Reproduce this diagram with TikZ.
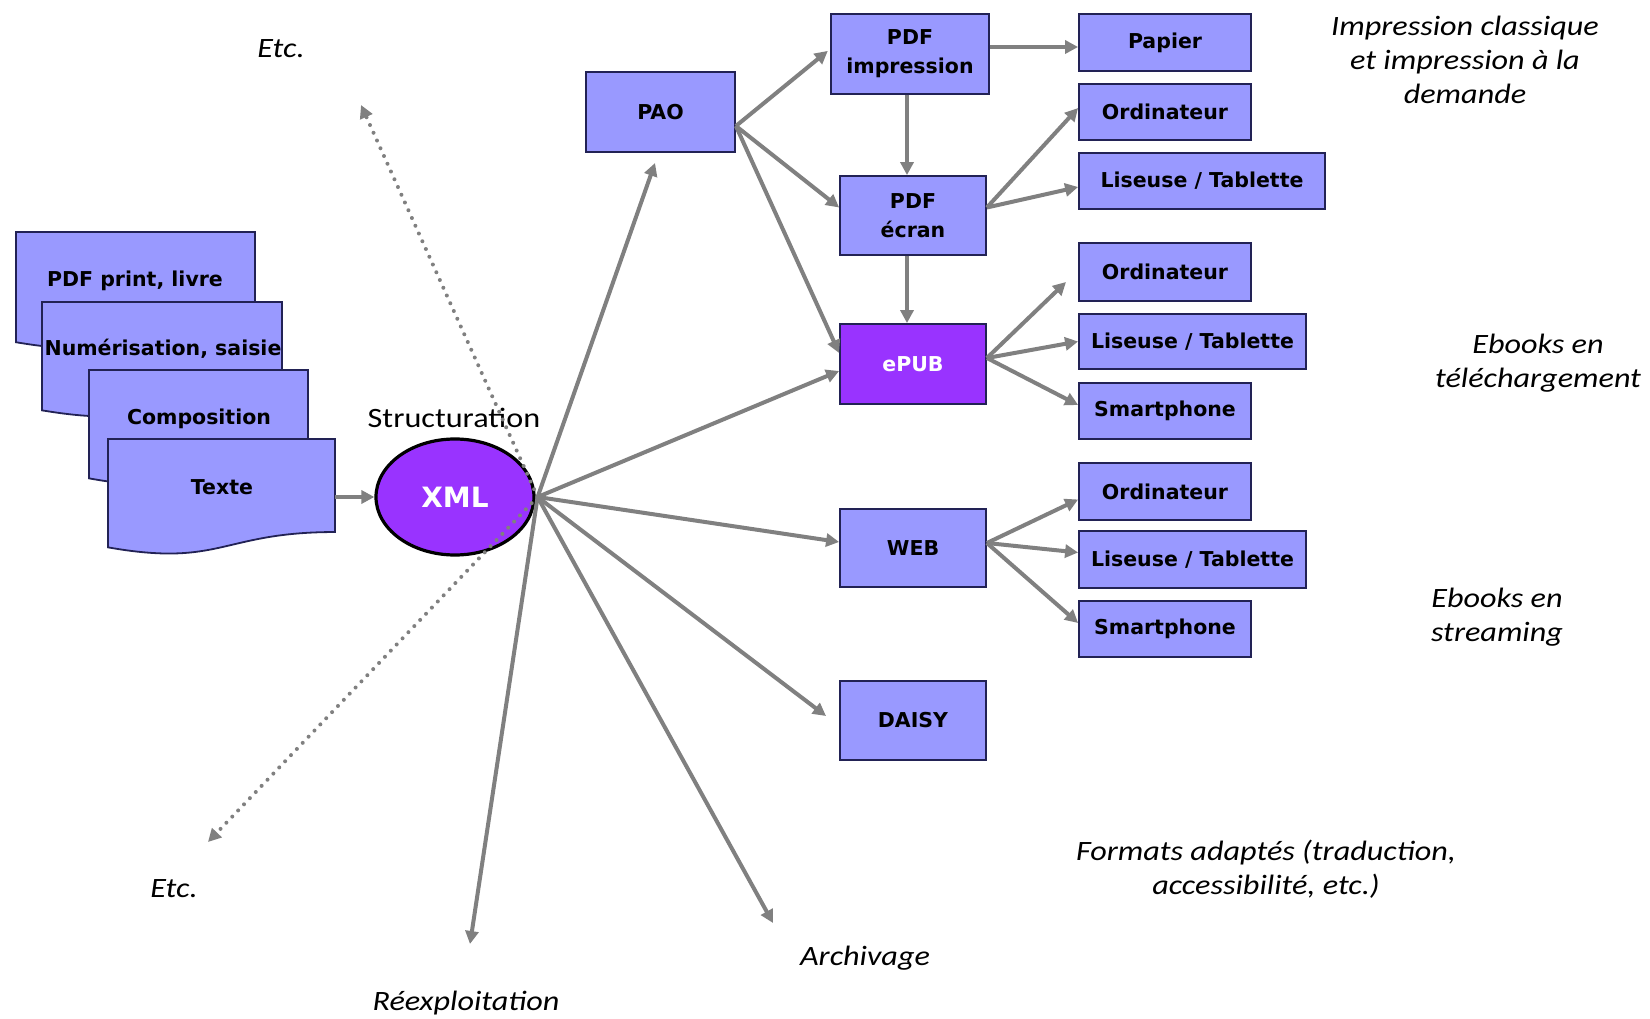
\documentclass[tikz,border=0pt]{standalone}
\usepackage{fontspec}
\usetikzlibrary{arrows.meta,shapes.geometric,calc}
\newfontfamily\boxfont{DejaVu Sans}
\newfontfamily\annotfont[FakeStretch=1.15]{Carlito}
\definecolor{boxfill}{HTML}{9999FF}
\definecolor{purplefill}{HTML}{9933FF}
\definecolor{boxline}{HTML}{222255}
\definecolor{arrowgray}{HTML}{808080}
\tikzset{
  box/.style={draw=boxline, fill=boxfill, line width=1.8pt, inner sep=0pt, align=center,
    font=\boxfont\bfseries\fontsize{20.5}{29}\selectfont, text=black},
  docbox/.style={draw=boxline, fill=boxfill, line width=1.8pt},
  doclabel/.style={font=\boxfont\bfseries\fontsize{20.5}{29}\selectfont, inner sep=0pt},
  annot/.style={font=\annotfont\itshape\fontsize{28}{34}\selectfont, align=center, inner sep=0pt},
  arr/.style={draw=arrowgray, line width=4pt, -{Triangle[length=13pt,width=13pt]}},
  dotarr/.style={draw=arrowgray, line width=4pt, dash pattern=on 0pt off 8.5pt, line cap=round,
    -{Triangle[length=13pt,width=13pt]}},
}
\newcommand\docshape[4]{%
  \draw[docbox] (#1,#2) -- ({#1+#3},#2) -- ({#1+#3},{#2+0.802*#4})
    .. controls ({#1+0.5*#3},{#2+0.802*#4}) and ({#1+0.5*#3},{#2+1.1075*#4}) ..
    (#1,{#2+0.934*#4}) -- cycle;}
\begin{document}
\begin{tikzpicture}[x=1pt,y=-1pt]
\fill[white] (0,0) rectangle (1650,1019);
\useasboundingbox (0,0) rectangle (1650,1019);

% document stack
\docshape{16}{232}{239}{118}
\node[doclabel] (pdfprint) at (135,281) {PDF print, livre};
\docshape{42}{302}{240}{116}
\node[doclabel] (numer) at (163,349) {Numérisation, saisie};
\docshape{89}{370}{219}{116}
\node[doclabel] (compo) at (199,419) {Composition};
\docshape{108}{439}{227}{116}
\node[doclabel] (texte) at (222,487) {Texte};
\coordinate (texteE) at (335,497);

% XML
\node[ellipse, draw=black, line width=3.2pt, fill=purplefill, minimum width=158pt, minimum height=116pt,
  inner sep=0pt, text=white, font=\boxfont\bfseries\fontsize{28}{34}\selectfont] (xml) at (455,497) {XML};
\node[font=\annotfont\fontsize{28}{34}\selectfont, inner sep=0pt] (struct) at (454,418) {Structuration};
\coordinate (hub) at ([xshift=2pt]xml.east);

% boxes
\node[box, minimum width=149pt, minimum height=80pt] (pao) at (660.5,112) {PAO};
\node[box, minimum width=158pt, minimum height=80pt] (pdfimp) at (910,54) {PDF\\impression};
\node[box, minimum width=146pt, minimum height=79pt] (pdfecr) at (913,215.5) {PDF\\écran};
\node[box, minimum width=146pt, minimum height=80pt, fill=purplefill, text=white] (epub) at (913,364) {ePUB};
\node[box, minimum width=146pt, minimum height=78pt] (web) at (913,548) {WEB};
\node[box, minimum width=146pt, minimum height=79pt] (daisy) at (913,720.5) {DAISY};

\node[box, minimum width=172pt, minimum height=57pt] (papier) at (1165,42.5) {Papier};
\node[box, minimum width=172pt, minimum height=56pt] (ord1) at (1165,112) {Ordinateur};
\node[box, minimum width=246pt, minimum height=56pt] (lis1) at (1202,181) {Liseuse / Tablette};
\node[box, minimum width=172pt, minimum height=58pt] (ord2) at (1165,272) {Ordinateur};
\node[box, minimum width=227pt, minimum height=55pt] (lis2) at (1192.5,341.5) {Liseuse / Tablette};
\node[box, minimum width=172pt, minimum height=56pt] (sma1) at (1165,411) {Smartphone};
\node[box, minimum width=172pt, minimum height=57pt] (ord3) at (1165,491.5) {Ordinateur};
\node[box, minimum width=227pt, minimum height=57pt] (lis3) at (1192.5,559.5) {Liseuse / Tablette};
\node[box, minimum width=172pt, minimum height=56pt] (sma2) at (1165,629) {Smartphone};

% annotations
\node[annot] (etcup) at (281,49) {Etc.};
\node[annot] (etcdown) at (174,889) {Etc.};
\node[annot] (reex) at (466,1003) {Réexploitation};
\node[annot] (arch) at (865,958) {Archivage};
\node[annot] (formats) at (1266,869) {Formats adaptés (traduction,\\accessibilité, etc.)};
\node[annot] (streaming) at (1497,617) {Ebooks en\\streaming};
\node[annot] (telech) at (1538,363) {Ebooks en\\téléchargement};
\node[annot] (impr) at (1465,60) {Impression classique\\et impression à la\\demande};

% free ends
\coordinate (paoEnd) at (655,163);
\coordinate (daisyEnd) at (826,716);
\coordinate (archEnd) at (773,923);
\coordinate (reexEnd) at (470,944);
\coordinate (etcUpEnd) at (361,105);
\coordinate (etcDownEnd) at (208,842);
\coordinate (ord2End) at (1066,282);

% connectors
\draw[arr] (texteE) -- (xml.west);
\draw[dotarr] (hub) -- (etcUpEnd);
\draw[dotarr] (hub) -- (etcDownEnd);
\draw[arr] (hub) -- (paoEnd);
\draw[arr] (hub) -- ([yshift=-7pt]epub.west);
\draw[arr] (hub) -- ([yshift=6pt]web.west);
\draw[arr] (hub) -- (daisyEnd);
\draw[arr] (hub) -- (archEnd);
\draw[arr] (hub) -- (reexEnd);

\coordinate (paoHub) at ([yshift=-14pt]pao.east);
\draw[arr, shorten >=3pt] (paoHub) -- ([yshift=5pt]pdfimp.west);
\draw[arr] (paoHub) -- ([yshift=8pt]pdfecr.west);
\draw[arr] (paoHub) -- ([yshift=11pt]epub.west);

\draw[arr] ([yshift=7pt]pdfimp.east) -- ([yshift=-4.5pt]papier.west);
\draw[arr] ([xshift=-3pt]pdfimp.south) -- (pdfecr.north -| {$(pdfimp.south)+(-3,0)$});
\draw[arr] ([xshift=-6pt]pdfecr.south) -- ([xshift=-6pt]epub.north);

\coordinate (ecrHub) at ([yshift=8pt]pdfecr.east);
\draw[arr] (ecrHub) -- ([yshift=4pt]ord1.west);
\draw[arr] (ecrHub) -- ([yshift=-6pt]lis1.west);

\coordinate (epubHub) at ([yshift=6pt]epub.east);
\draw[arr] (epubHub) -- (ord2End);
\draw[arr] (epubHub) -- (lis2.west);
\draw[arr] (epubHub) -- ([yshift=6pt]sma1.west);

\coordinate (webHub) at ([yshift=5pt]web.east);
\draw[arr] (webHub) -- ([yshift=-8pt]ord3.west);
\draw[arr] (webHub) -- ([yshift=7pt]lis3.west);
\draw[arr] (webHub) -- ([yshift=6pt]sma2.west);
\end{tikzpicture}
\end{document}
